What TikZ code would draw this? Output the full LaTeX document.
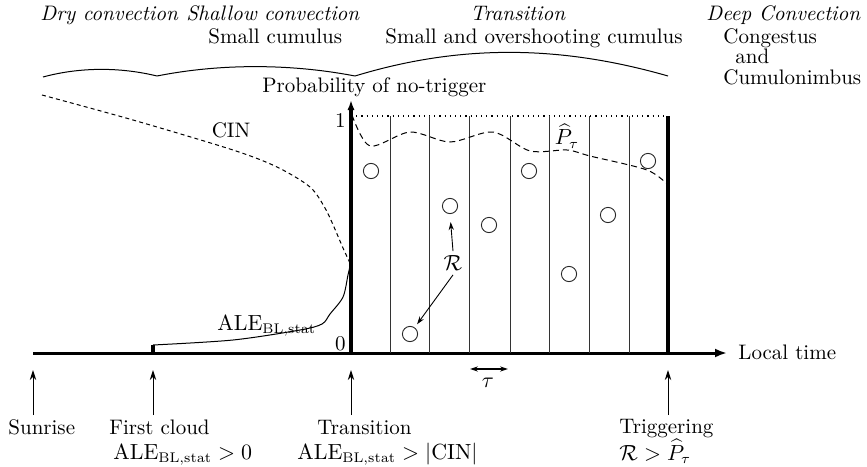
\documentclass[tikz,border=0pt]{standalone}
\usetikzlibrary{arrows.meta}
\begin{document}
\begin{tikzpicture}[x=0.5pt,y=-0.5pt,
  font=\fontsize{10.5}{12.6}\selectfont,
  axisln/.style={line width=1.5pt},
  thickln/.style={line width=1.7pt},
  thinln/.style={line width=0.45pt, black!80},
  curveln/.style={line width=0.5pt},
  dashln/.style={line width=0.5pt, dash pattern=on 2pt off 1.6pt},
  upar/.style={line width=0.5pt,-{Stealth[length=5pt,width=3.2pt]}},
  rar/.style={line width=0.45pt,-{Stealth[length=4pt,width=2.6pt]}},
  lbl/.style={inner sep=0pt, anchor=base west},
  circ/.style={circle, draw=black!85, line width=0.45pt, minimum size=7.6pt, inner sep=0pt}]
\useasboundingbox (0,0) rectangle (867,466);

% ---------- top texts ----------
\node[lbl] (dry) at (40,20) {\itshape Dry convection};
\node[lbl] (shal) at (186,20) {\itshape Shallow convection};
\node[lbl] (trans) at (470,20) {\itshape Transition};
\node[lbl] (deep) at (706,20) {\itshape Deep Convection};
\node[lbl] (smc) at (208,43) {Small cumulus};
\node[lbl] (smo) at (385,43) {Small and overshooting cumulus};
\node[lbl] (cong) at (723,43) {Congestus};
\node[lbl] (and) at (735,63) {and};
\node[lbl] (cumu) at (723,84) {Cumulonimbus};

% ---------- braces ----------
\coordinate (b0) at (43,77);
\coordinate (b1) at (157,76);
\coordinate (b2) at (355,76);
\coordinate (b3) at (668,76);
\draw[curveln] (b0) .. controls (80,67) and (120,67) .. (b1);
\draw[curveln] (b1) .. controls (220,63.5) and (290,63.5) .. (b2);
\draw[curveln] (b2) .. controls (460,44) and (560,45) .. (b3);

% ---------- axis ----------
\coordinate (ax0) at (33,353);
\coordinate (ax1) at (727,353);
\draw[axisln,-{Latex[length=6pt,width=4.5pt]}] (ax0) -- (ax1);
\node[lbl] (lt) at (738,359) {Local time};

% vertical probability axis
\coordinate (p0) at (351,353);
\coordinate (ptop) at (351,100);
\draw[thickln,-{Latex[length=5pt,width=3.6pt]}] (p0) -- (ptop);
\node[lbl] (prob) at (262,92) {Probability of no-trigger};
\node[inner sep=0pt, anchor=base east] (one) at (346,127) {1};
\node[inner sep=0pt, anchor=base east] (zero) at (346,350) {0};

% box
\coordinate (q0) at (351,116);
\coordinate (q1) at (668,116);
\coordinate (q2) at (668,353);
\draw[line width=0.6pt, dotted] (q0) -- (q1);
\draw[thickln] (q1) -- (q2);
\foreach \x in {390,429,469,510,549,589,629}
  \draw[thinln] (\x,116) -- (\x,353);

% first cloud tick
\coordinate (fc0) at (153,353);
\coordinate (fc1) at (153,345);
\draw[thickln] (fc0) -- (fc1);

% ---------- curves ----------
\draw[dashln] plot[smooth, tension=0.5] coordinates {(42,95) (133,120) (233,150) (277,167) (310,187) (325,208) (334,227) (343,248) (350,263)};
\node[inner sep=0pt, anchor=base] (cin) at (231,137) {CIN};

\draw[curveln] plot[smooth, tension=0.5] coordinates {(fc1) (233,340) (300,330) (322,324) (330,314) (343,297) (348,275) (351,262)};
\node[lbl] (ale) at (217,330) {$\mathrm{ALE}_{\mathrm{BL,stat}}$};

\draw[dashln, dash pattern=on 3pt off 2pt] plot[smooth, tension=0.5] coordinates {(352,115) (370,146) (410,132) (450,142) (493,132) (530,151) (567,150) (590,156) (647,170) (668,185)};
\node[inner sep=0pt] (phat) at (567,136) {$\widehat{P}_\tau$};

% ---------- circles ----------
\node[circ] (c1) at (371,171) {};
\node[circ] (c2) at (450,206) {};
\node[circ] (c3) at (489,225) {};
\node[circ] (c4) at (410,334) {};
\node[circ] (c5) at (529,171) {};
\node[circ] (c6) at (569,274) {};
\node[circ] (c7) at (608,215) {};
\node[circ] (c8) at (648,161) {};

\node[inner sep=2pt] (R) at (453,263) {$\mathcal{R}$};
\draw[rar, shorten >=4pt] (R.north) -- (c2.south);
\draw[rar, shorten >=2pt] (R.south) -- (c4);

% tau
\coordinate (t0) at (470,369);
\coordinate (t1) at (508,369);
\draw[line width=0.6pt,{Stealth[length=4pt,width=2.6pt]}-{Stealth[length=4pt,width=2.6pt]}] (t0) -- (t1);
\node[inner sep=0pt] (tau) at (488,383) {$\tau$};

% ---------- bottom arrows and labels ----------
\coordinate (a1b) at (33,415);  \coordinate (a1t) at (33,370);
\coordinate (a2b) at (153,415); \coordinate (a2t) at (153,370);
\coordinate (a3b) at (351,415); \coordinate (a3t) at (351,370);
\coordinate (a4b) at (668,415); \coordinate (a4t) at (668,370);
\draw[upar] (a1b) -- (a1t);
\draw[upar] (a2b) -- (a2t);
\draw[upar] (a3b) -- (a3t);
\draw[upar] (a4b) -- (a4t);

\node[lbl] (sun) at (8,434) {Sunrise};
\node[lbl] (fcl) at (109,434) {First cloud};
\node[lbl] (fcc) at (113,459) {$\mathrm{ALE}_{\mathrm{BL,stat}}>0$};
\node[lbl] (tr) at (317,434) {Transition};
\node[lbl] (trc) at (297,459) {$\mathrm{ALE}_{\mathrm{BL,stat}}>|\mathrm{CIN}|$};
\node[lbl] (trg) at (619,433) {Triggering};
\node[lbl] (trgc) at (619,460) {$\mathcal{R}>\widehat{P}_\tau$};
\end{tikzpicture}
\end{document}
